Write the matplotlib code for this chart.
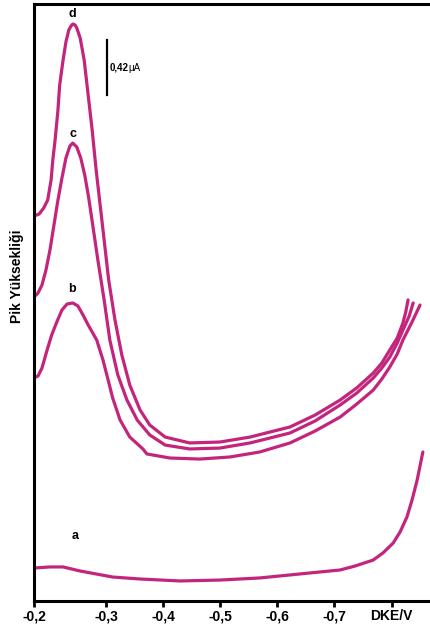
import matplotlib
matplotlib.use("Agg")
import matplotlib.pyplot as plt

plt.rcParams['font.family'] = ['Liberation Sans', 'DejaVu Sans']

# potential (V) and peak current (uA)
pot_d = [-0.173, -0.182, -0.190, -0.197, -0.203, -0.206, -0.210, -0.215, -0.218, -0.224,
         -0.229, -0.234, -0.238, -0.241, -0.245, -0.248, -0.254, -0.261, -0.268, -0.275,
         -0.282, -0.289, -0.296, -0.304, -0.315, -0.327, -0.341, -0.359, -0.376, -0.403,
         -0.446, -0.499, -0.552, -0.622, -0.666, -0.710, -0.739, -0.768, -0.783, -0.797,
         -0.810, -0.820, -0.825, -0.829]
cur_d = [2.940, 2.955, 3.001, 3.062, 3.215, 3.368, 3.520, 3.749, 3.940, 4.131,
         4.269, 4.360, 4.391, 4.406, 4.399, 4.376, 4.299, 4.131, 3.864, 3.597,
         3.291, 3.024, 2.757, 2.451, 2.146, 1.879, 1.649, 1.459, 1.344, 1.252,
         1.207, 1.214, 1.252, 1.329, 1.420, 1.535, 1.627, 1.741, 1.817, 1.917,
         2.008, 2.123, 2.207, 2.299]

pot_c = [-0.173, -0.180, -0.187, -0.194, -0.201, -0.208, -0.215, -0.222, -0.229, -0.236,
         -0.241, -0.248, -0.255, -0.262, -0.269, -0.276, -0.285, -0.296, -0.306, -0.320,
         -0.336, -0.354, -0.376, -0.403, -0.446, -0.499, -0.552, -0.622, -0.666, -0.710,
         -0.739, -0.768, -0.783, -0.797, -0.810, -0.820, -0.831, -0.838]
cur_c = [2.321, 2.352, 2.413, 2.528, 2.680, 2.871, 3.062, 3.230, 3.383, 3.475,
         3.497, 3.467, 3.383, 3.253, 3.077, 2.871, 2.604, 2.299, 1.993, 1.726,
         1.535, 1.382, 1.268, 1.191, 1.161, 1.168, 1.207, 1.283, 1.375, 1.497,
         1.588, 1.703, 1.779, 1.863, 1.970, 2.069, 2.176, 2.276]

pot_b = [-0.173, -0.180, -0.187, -0.196, -0.204, -0.213, -0.222, -0.231, -0.241, -0.250,
         -0.259, -0.268, -0.276, -0.283, -0.294, -0.303, -0.311, -0.324, -0.341, -0.364,
         -0.371, -0.411, -0.464, -0.517, -0.569, -0.622, -0.666, -0.710, -0.739, -0.768,
         -0.783, -0.797, -0.810, -0.820, -0.836, -0.850]
cur_b = [1.703, 1.718, 1.779, 1.917, 2.031, 2.131, 2.222, 2.268, 2.276, 2.253,
         2.184, 2.108, 2.047, 1.993, 1.840, 1.688, 1.550, 1.382, 1.252, 1.161,
         1.123, 1.092, 1.084, 1.100, 1.138, 1.207, 1.298, 1.405, 1.504, 1.611,
         1.695, 1.787, 1.886, 1.993, 2.131, 2.260]

pot_a = [-0.173, -0.201, -0.224, -0.254, -0.311, -0.359, -0.429, -0.499, -0.569, -0.622,
         -0.710, -0.736, -0.768, -0.785, -0.803, -0.815, -0.827, -0.836, -0.845, -0.855]
cur_a = [0.252, 0.260, 0.260, 0.229, 0.183, 0.168, 0.153, 0.160, 0.176, 0.199,
         0.237, 0.267, 0.313, 0.367, 0.443, 0.527, 0.641, 0.771, 0.924, 1.138]

tick_pos = [-0.173, -0.3, -0.4, -0.5, -0.6, -0.7, -0.8]
tick_lbl = ['-0,2', '-0,3', '-0,4', '-0,5', '-0,6', '-0,7', 'DKE/V']

# curve letters: (label, potential, current)
letters = [('d', -0.240, 4.48), ('c', -0.241, 3.57), ('b', -0.240, 2.38), ('a', -0.245, 0.50)]

scale_val = 0.42
scale_pot = -0.301
scale_top = 4.284

col = '#c4257c'

fig = plt.figure(figsize=(4.30, 6.29), dpi=100)
ax = fig.add_axes([34 / 430, 1 - 601 / 629, 1 - 34 / 430, (601 - 4) / 629])

for p, c in [(pot_a, cur_a), (pot_b, cur_b), (pot_c, cur_c), (pot_d, cur_d)]:
    ax.plot(p, c, color=col, lw=2.3, solid_capstyle='round', solid_joinstyle='round')

for lab, p, c in letters:
    ax.text(p, c, lab, fontsize=9, fontweight='bold', ha='center', va='center')

# scale bar
ax.plot([scale_pot, scale_pot], [scale_top, scale_top - scale_val], color='black', lw=1.6)
ax.text(scale_pot - 0.005, scale_top - scale_val / 2, '0,42', fontsize=7, fontweight='bold',
        ha='left', va='center')
ax.text(scale_pot - 0.037, scale_top - scale_val / 2, 'μA', fontsize=7,
        ha='left', va='center')

ax.set_xlim(-0.173, -0.8675)
ax.set_ylim(0, 4.559)
ax.set_xticks(tick_pos)
ax.set_xticklabels(tick_lbl, fontsize=10, fontweight='bold')
ax.set_yticks([])
ax.tick_params(axis='x', direction='out', length=4, width=2, pad=2)
for s in ['left', 'bottom', 'top']:
    ax.spines[s].set_linewidth(2.2)
ax.spines['right'].set_visible(False)

fig.text(17 / 430, 1 - 276 / 629, 'Pik Yüksekliği', rotation=90, fontsize=10,
         fontweight='bold', ha='center', va='center')

fig.savefig('out.png', dpi=100)
